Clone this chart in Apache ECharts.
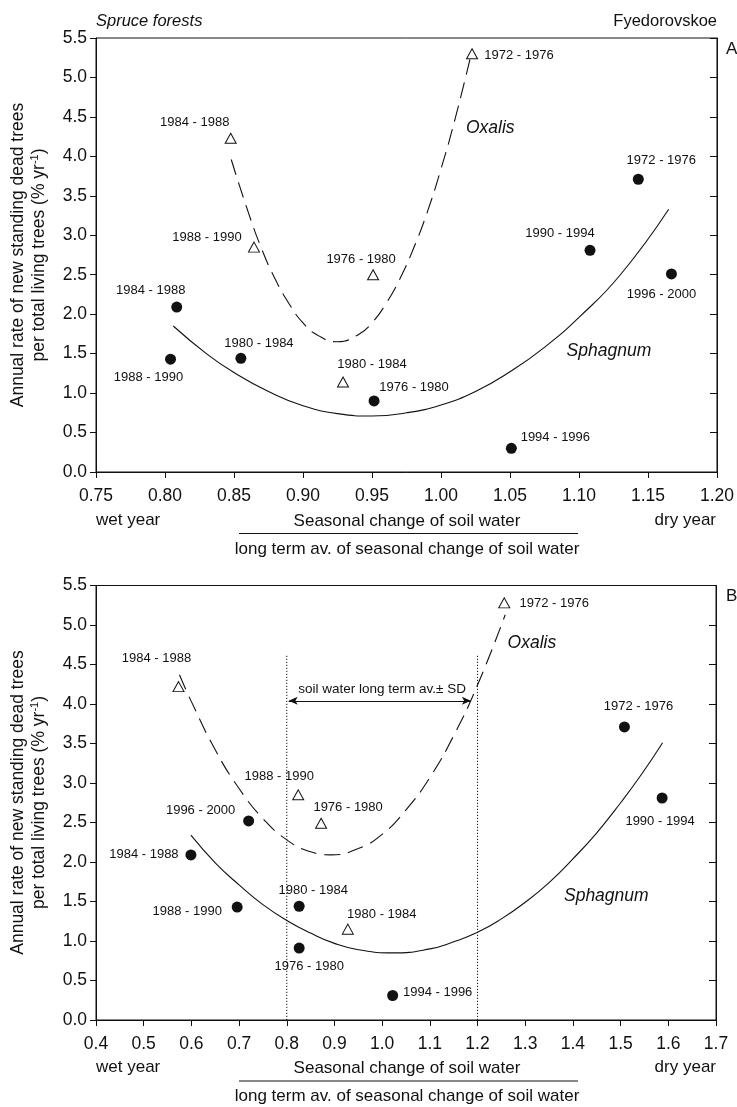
<!DOCTYPE html>
<html>
<head>
<meta charset="utf-8">
<script src="https://cdn.jsdelivr.net/npm/echarts@6/dist/echarts.min.js"></script>
<style>
html,body{margin:0;padding:0;background:#fff;}
#chart{width:737px;height:1107px;}
</style>
</head>
<body>
<div id="chart"></div>
<script>
// ---------- Panel A data ----------
const aSphX = [0.8085, 0.804, 0.855, 0.9515, 1.051, 1.167, 1.108, 1.143];
const aSphY = [2.09, 1.43, 1.44, 0.90, 0.30, 2.51, 2.81, 3.71];
const aSphPeriods = ['1984 - 1988','1988 - 1990','1980 - 1984','1976 - 1980','1994 - 1996','1996 - 2000','1990 - 1994','1972 - 1976'];
const aOxaX = [1.0225, 0.8476, 0.8645, 0.9508, 0.929];
const aOxaY = [5.30, 4.23, 2.85, 2.50, 1.14];
const aOxaPeriods = ['1972 - 1976','1984 - 1988','1988 - 1990','1976 - 1980','1980 - 1984'];
// fitted curves
const aSphCurveX = [0.806, 0.83, 0.85, 0.875, 0.90, 0.925, 0.95, 0.975, 1.00, 1.025, 1.05, 1.075, 1.10, 1.13, 1.165];
const aSphCurveY = [1.85, 1.50, 1.26, 1.02, 0.84, 0.74, 0.71, 0.75, 0.85, 1.02, 1.27, 1.58, 1.96, 2.50, 3.33];
const aOxaCurveX = [0.848, 0.86, 0.87, 0.88, 0.89, 0.90, 0.91, 0.925, 0.94, 0.95, 0.96, 0.97, 0.98, 0.99, 1.00, 1.01, 1.021];
const aOxaCurveY = [3.96, 3.31, 2.83, 2.44, 2.13, 1.89, 1.74, 1.65, 1.74, 1.89, 2.13, 2.44, 2.83, 3.29, 3.84, 4.46, 5.23];

// ---------- Panel B data ----------
const bSphX = [0.599, 0.696, 0.826, 0.826, 0.720, 1.022, 1.508, 1.587];
const bSphY = [2.09, 1.43, 1.44, 0.91, 2.52, 0.31, 3.71, 2.81];
const bSphPeriods = ['1984 - 1988','1988 - 1990','1980 - 1984','1976 - 1980','1996 - 2000','1994 - 1996','1972 - 1976','1990 - 1994'];
const bOxaX = [0.573, 0.824, 0.872, 0.928, 1.256];
const bOxaY = [4.22, 2.85, 2.49, 1.15, 5.28];
const bOxaPeriods = ['1984 - 1988','1988 - 1990','1976 - 1980','1980 - 1984','1972 - 1976'];
const bSphCurveX = [0.599, 0.65, 0.70, 0.75, 0.80, 0.85, 0.90, 0.95, 1.022, 1.10, 1.15, 1.20, 1.25, 1.30, 1.35, 1.40, 1.45, 1.50, 1.545, 1.588];
const bSphCurveY = [2.34, 1.99, 1.71, 1.46, 1.26, 1.10, 0.97, 0.89, 0.85, 0.90, 0.99, 1.11, 1.28, 1.49, 1.74, 2.04, 2.37, 2.75, 3.12, 3.51];
const bOxaCurveX = [0.575, 0.60, 0.65, 0.70, 0.75, 0.80, 0.85, 0.892, 0.95, 1.00, 1.05, 1.10, 1.15, 1.20, 1.258];
const bOxaCurveY = [4.37, 4.03, 3.42, 2.93, 2.55, 2.28, 2.13, 2.09, 2.17, 2.35, 2.66, 3.07, 3.60, 4.24, 5.13];
const bSdBounds = [0.8, 1.2];
const bSdTop = 4.62;
const bArrowX = [0.804, 1.186];
const bArrowY = 4.04;

// ---------- tick settings ----------
const yTicks = { min: 0, max: 5.5, interval: 0.5 };
const aXTicks = { min: 0.75, max: 1.20, interval: 0.05 };
const bXTicks = { min: 0.4, max: 1.7, interval: 0.1 };

// ---------- label offsets (style) ----------
const aSphOff = [[-26,-17],[-22,18],[18,-15],[40,-14],[44,-11],[-10,20],[-30,-17],[23,-19]];
const aOxaOff = [[47,2],[-36,-16],[-47,-10],[-12,-15],[29,-18]];
const bSphOff = [[-47,0],[-50,4],[14,-16],[10,18],[-48,-10],[45,-3],[14,-20],[-2,23]];
const bOxaOff = [[-22,-28],[-19,-18],[27,-16],[34,-15],[50,1]];

const font = "'Liberation Sans', Arial, Helvetica, sans-serif";
const ink = '#111';

function pairs(xs, ys) { return xs.map((x, i) => [x, ys[i]]); }

function pointSeries(xs, ys, names, offs, gi, type) {
  const circle = type === 'circle';
  return {
    type: 'scatter', xAxisIndex: gi, yAxisIndex: gi * 2, z: 5,
    symbol: circle ? 'circle' : 'triangle',
    symbolSize: circle ? 11 : [11, 10],
    itemStyle: circle ? { color: ink, opacity: 1 } : { color: '#fff', borderColor: ink, borderWidth: 1, opacity: 1 },
    data: xs.map((x, i) => ({ value: [x, ys[i]], name: names[i], label: { offset: offs[i] } })),
    label: { show: true, position: 'inside', formatter: '{b}', color: ink, fontSize: 13, fontFamily: font, align: 'center', verticalAlign: 'middle' },
    emphasis: { disabled: true }, silent: true
  };
}

function curveSeries(xs, ys, gi, dashed) {
  return {
    type: 'line', xAxisIndex: gi, yAxisIndex: gi * 2, z: 3,
    data: pairs(xs, ys), smooth: true, showSymbol: false, symbol: 'none',
    lineStyle: { color: ink, width: 1.1, type: dashed ? [16, 8] : 'solid' },
    silent: true
  };
}

function annot(text, x, y, gi) {
  return {
    type: 'scatter', xAxisIndex: gi, yAxisIndex: gi * 2, symbolSize: 0, z: 6,
    itemStyle: { color: 'transparent', opacity: 1 },
    data: [{ value: [x, y], name: text }],
    label: { show: true, position: 'inside', formatter: '{b}', color: ink, opacity: 1, fontSize: 17.5, fontStyle: 'italic', fontFamily: font },
    emphasis: { disabled: true }, silent: true
  };
}

function xAxis(gi, t, digits) {
  return {
    type: 'value', gridIndex: gi, min: t.min, max: t.max, interval: t.interval,
    axisLine: { lineStyle: { color: ink, width: 1 } },
    axisTick: { show: true, length: 6, lineStyle: { color: ink } },
    axisLabel: { formatter: v => v.toFixed(digits), color: ink, fontSize: 17.5, fontFamily: font, margin: 15 },
    splitLine: { show: false }
  };
}
function yAxes(gi) {
  return [{
    type: 'value', gridIndex: gi, position: 'left', min: yTicks.min, max: yTicks.max, interval: yTicks.interval,
    axisLine: { show: true, lineStyle: { color: ink } },
    axisTick: { show: true, length: 6, lineStyle: { color: ink } },
    axisLabel: { formatter: v => v.toFixed(1), color: ink, fontSize: 17.5, fontFamily: font, margin: 9 },
    splitLine: { show: false }
  }, {
    type: 'value', gridIndex: gi, position: 'right', min: yTicks.min, max: yTicks.max, interval: yTicks.interval,
    axisLine: { show: true, lineStyle: { color: ink } },
    axisTick: { show: true, inside: true, length: 7, lineStyle: { color: ink } },
    axisLabel: { show: false }, splitLine: { show: false }
  }];
}

const series = [
  curveSeries(aSphCurveX, aSphCurveY, 0, false),
  curveSeries(aOxaCurveX, aOxaCurveY, 0, true),
  pointSeries(aSphX, aSphY, aSphPeriods, aSphOff, 0, 'circle'),
  pointSeries(aOxaX, aOxaY, aOxaPeriods, aOxaOff, 0, 'triangle'),
  annot('Oxalis', 1.0357, 4.36, 0),
  annot('Sphagnum', 1.1217, 1.53, 0),
  curveSeries(bSphCurveX, bSphCurveY, 1, false),
  curveSeries(bOxaCurveX, bOxaCurveY, 1, true),
  pointSeries(bSphX, bSphY, bSphPeriods, bSphOff, 1, 'circle'),
  pointSeries(bOxaX, bOxaY, bOxaPeriods, bOxaOff, 1, 'triangle'),
  annot('Oxalis', 1.314, 4.77, 1),
  annot('Sphagnum', 1.470, 1.57, 1)
];
bSdBounds.forEach((bx, i) => {
  series.push({
    type: 'line', xAxisIndex: 1, yAxisIndex: 2, z: 2, symbol: 'none', silent: true,
    data: [[bx, 0], [bx, bSdTop]],
    lineStyle: { color: ink, width: 1, type: [1.2, 1.8] },
    markLine: i === 0 ? {
      silent: true, symbol: ['arrow', 'arrow'], symbolSize: [6, 9],
      lineStyle: { color: ink, width: 1, type: 'solid' }, label: { show: false },
      data: [[{ coord: [bArrowX[0], bArrowY] }, { coord: [bArrowX[1], bArrowY] }]]
    } : undefined
  });
});
series.push({
  type: 'scatter', xAxisIndex: 1, yAxisIndex: 2, symbolSize: 0, itemStyle: { color: 'transparent', opacity: 1 }, silent: true,
  emphasis: { disabled: true },
  data: [{ value: [1.0, 4.19], name: 'soil water long term av.\u00b1 SD' }],
  label: { show: true, position: 'inside', formatter: '{b}', color: ink, opacity: 1, fontSize: 13.5, fontFamily: font }
});

const txt = (x, y, text, opts) => ({ type: 'text', x, y, silent: true, style: Object.assign({ text, fill: ink, font: '16.5px ' + font, align: 'left', verticalAlign: 'middle' }, opts || {}) });

function panelGraphics(dy) {
  const ylab = {
    type: 'text', x: 29, y: 255 + dy, rotation: Math.PI / 2, silent: true,
    style: {
      text: '{a|Annual rate of new standing dead trees}\n{a|per total living trees (% yr}{s|-1}{a|)}',
      align: 'center', verticalAlign: 'middle',
      rich: {
        a: { fontSize: 17.5, fontFamily: font, fill: ink, lineHeight: 21 },
        s: { fontSize: 11, fontFamily: font, fill: ink, lineHeight: 21, verticalAlign: 'top' }
      }
    }
  };
  return [
    ylab,
    txt(96, 520 + dy, 'wet year', { font: '17px ' + font }),
    txt(716, 520 + dy, 'dry year', { font: '17px ' + font, align: 'right' }),
    txt(407, 521 + dy, 'Seasonal change of soil water', { font: '17px ' + font, align: 'center' }),
    { type: 'line', silent: true, shape: { x1: 239, y1: 533.5 + dy, x2: 578, y2: 533.5 + dy }, style: { stroke: ink, lineWidth: 1 } },
    txt(407, 549 + dy, 'long term av. of seasonal change of soil water', { font: '17px ' + font, align: 'center' })
  ];
}

const option = {
  animation: false,
  backgroundColor: '#fff',
  grid: [
    { left: 96, top: 38, width: 621, height: 434, show: true, borderColor: ink, borderWidth: 1, backgroundColor: 'transparent' },
    { left: 96, top: 585.5, width: 620, height: 434.5, show: true, borderColor: ink, borderWidth: 1, backgroundColor: 'transparent' }
  ],
  xAxis: [xAxis(0, aXTicks, 2), xAxis(1, bXTicks, 1)],
  yAxis: [...yAxes(0), ...yAxes(1)],
  series,
  graphic: [
    txt(96, 21, 'Spruce forests', { font: 'italic 16.5px ' + font }),
    txt(717, 21, 'Fyedorovskoe', { align: 'right' }),
    txt(726, 49, 'A', { font: '17px ' + font }),
    txt(726, 596, 'B', { font: '17px ' + font }),
    ...panelGraphics(0),
    ...panelGraphics(547.5)
  ]
};

const chart = echarts.init(document.getElementById('chart'), null, { renderer: 'canvas' });
chart.setOption(option);
</script>
</body>
</html>
